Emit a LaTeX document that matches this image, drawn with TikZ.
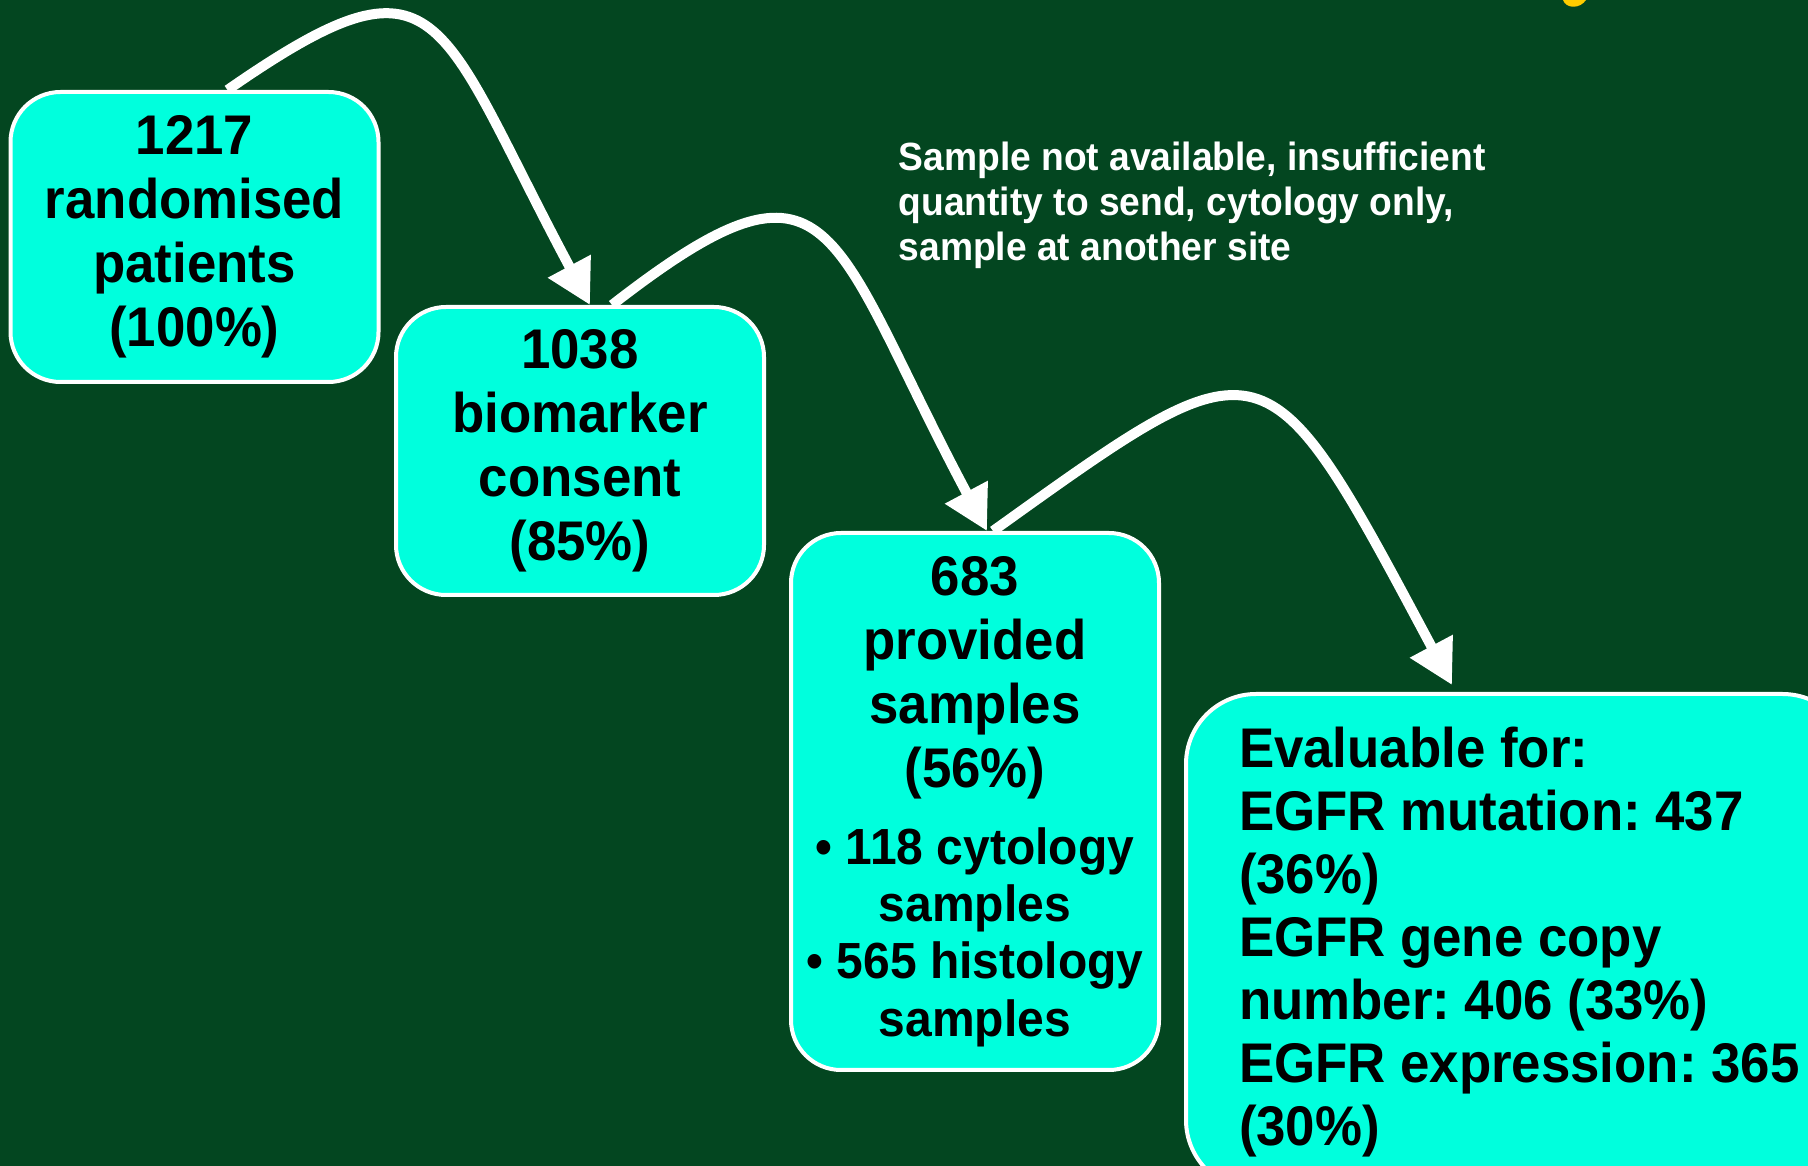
\documentclass[tikz,border=0pt]{standalone}
\usepackage{fontspec}
\setmainfont{Liberation Sans}[FakeStretch=0.945]
\usetikzlibrary{arrows.meta}
\definecolor{bggreen}{RGB}{3,70,32}
\definecolor{boxcyan}{RGB}{0,255,221}
\definecolor{titleyellow}{RGB}{255,204,0}
\newcommand{\bulletsize}{\fontsize{14.45}{16.4}\selectfont}

\begin{document}
\begin{tikzpicture}[x=0.1mm, y=-0.1mm,
		stepbox/.style={draw=white, line width=0.4mm, fill=boxcyan, rounded corners=5mm, minimum width=36.8mm, inner sep=0pt, text=black, font=\bfseries\frenchspacing\fontsize{15.9}{18.2}\selectfont},
		flowarrow/.style={draw=white, line width=1mm, -{Triangle[length=4.4mm, width=4.6mm]}},
		notetext/.style={text=white, inner sep=0pt, align=left, font=\bfseries\fontsize{11.2}{12.8}\selectfont}]
		\fill[bggreen] (0,0) rectangle (1808,1166);
		\useasboundingbox (0,0) rectangle (1808,1166);
		\fill[titleyellow] (1563,0) .. controls (1566,9) and (1580,9) .. (1586,0) -- cycle;
		\node[stepbox, align=center, minimum height=29mm] (ran) at (194.5,237) {1217\\randomised\\patients\\(100\%)};
		\node[stepbox, align=center, minimum height=28.8mm] (con) at (580,451) {1038\\biomarker\\consent\\(85\%)};
		\node[stepbox, align=center, minimum height=53.7mm] (pro) at (975,801.5) {683\\provided\\samples\\(56\%)\\[3.7pt]{\bulletsize • 118 cytology}\\[-1.9pt]{\bulletsize samples}\\[-1.9pt]{\bulletsize • 565 histology}\\[-1.9pt]{\bulletsize samples}};
		\node[stepbox, anchor=north west, rounded corners=7mm, align=left, inner xsep=5.3mm, minimum height=49.6mm, font=\bfseries\frenchspacing\fontsize{15.9}{17.9}\selectfont] (eva) at (1184,692) {Evaluable for:\\EGFR mutation: 437\\(36\%)\\EGFR gene copy\\number: 406 (33\%)\\EGFR expression: 365\\(30\%)};
		\node[notetext, anchor=north west] (note) at (898,141) {Sample not available, insufficient\\quantity to send, cytology only,\\sample at another site};
		\draw[flowarrow] ([xshift=3.3mm]ran.north) .. controls +(216,-150) and +(-155,-290) .. ([xshift=1mm]con.north);
		\draw[flowarrow] ([xshift=3.2mm]con.north) .. controls +(225,-175) and +(-160,-300) .. ([xshift=1.2mm]pro.north);
		\draw[flowarrow] ([xshift=1.8mm]pro.north) .. controls +(275,-197) and +(-188,-352) .. ([xshift=26.8mm,yshift=0.7mm]eva.north west);
	\end{tikzpicture}
\end{document}
